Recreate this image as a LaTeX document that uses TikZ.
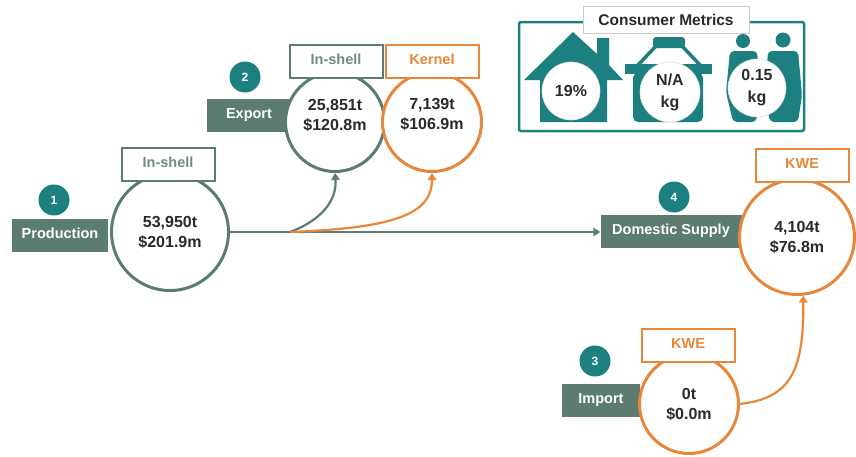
\documentclass[tikz,border=0pt]{standalone}
\usepackage{fontspec}
\setmainfont{Liberation Sans}
\usetikzlibrary{arrows.meta}
\definecolor{sage}{HTML}{5C7C72}
\definecolor{sagetxt}{HTML}{6F8C84}
\definecolor{tealc}{HTML}{1D8080}
\definecolor{orng}{HTML}{E8873A}
\definecolor{txt}{HTML}{2A2A2A}
\tikzset{
  valc/.style={circle, draw=sage, line width=3pt, fill=white, align=center, inner sep=0pt,
    font=\fontsize{16}{20}\selectfont\bfseries, text=txt},
  valco/.style={valc, draw=orng},
  valtext/.style={align=center, inner sep=0pt, font=\fontsize{16}{20}\selectfont\bfseries, text=txt},
  lab/.style={fill=sage, text=white, font=\fontsize{14.5}{16}\selectfont\bfseries,
    minimum height=33pt, inner sep=0pt, text height=10.5pt, text depth=3pt},
  tagbox/.style={draw=sage, line width=2pt, fill=white, text=sagetxt,
    font=\fontsize{14.5}{16}\selectfont\bfseries, minimum width=93pt, minimum height=33pt, inner sep=0pt,
    text height=10.5pt, text depth=3pt},
  tagboxo/.style={tagbox, draw=orng, text=orng},
  badge/.style={circle, fill=tealc, text=white, minimum size=31pt, inner sep=0pt,
    font=\fontsize{12}{14}\selectfont\bfseries},
  flow/.style={line width=2.2pt, draw=sage, -{Triangle[width=8.5pt,length=7pt]}},
  flowo/.style={flow, draw=orng},
  metric/.style={circle, fill=white, draw=gray!25, line width=0.6pt, align=center, inner sep=0pt,
    font=\fontsize{16}{22}\selectfont\bfseries, text=txt},
}
\begin{document}
\begin{tikzpicture}[x=1pt,y=-1pt]
\useasboundingbox[fill=white] (0,0) rectangle (856,456);

% Production
\node[lab, minimum width=96pt] (prodL) at (60,235) {Production};
\node[valc, minimum size=117pt] (prod) at (170,232) {53,950t\\\$201.9m};
\node[tagbox] (prodT) at (168,164) {In-shell};
\node[badge] (b1) at (54,200) {1};

% Export
\node[lab, minimum width=84pt] (expL) at (249,115) {Export};
\node[valc, minimum size=99pt] (expS) at (335,122) {};
\node[valco, minimum size=99pt] (expK) at (432,122) {};
\node[valtext] (expSv) at (335,116) {25,851t\\\$120.8m};
\node[valtext] (expKv) at (432,115) {7,139t\\\$106.9m};
\node[tagbox] (expST) at (336,61) {In-shell};
\node[tagboxo] (expKT) at (432,61) {Kernel};
\node[badge] (b2) at (245,77) {2};

% Domestic supply
\node[lab, minimum width=141pt] (domL) at (671,231) {Domestic Supply};
\node[valco, minimum size=115pt] (dom) at (797,237) {4,104t\\\$76.8m};
\node[tagboxo] (domT) at (802,165) {KWE};
\node[badge] (b4) at (674,197) {4};

% Import
\node[lab, minimum width=78pt] (impL) at (601,400) {Import};
\node[valco, minimum size=99pt] (imp) at (689,404) {0t\\\$0.0m};
\node[tagboxo] (impT) at (688,345) {KWE};
\node[badge] (b3) at (595,361) {3};

% connectors
\coordinate (split) at (290,232);
\draw[flow] (prod.east) -- (prod.east -| domL.west);
\draw[flow] (split) .. controls (322,220) and (337,200) .. (expS.south);
\draw[flowo] (split) .. controls (395,228) and (432,214) .. (expK.south);
\draw[flowo] (imp.east) .. controls (790,398) and (804,372) .. (dom.-84);

% Consumer metrics
\draw[tealc, line width=2.5pt, rounded corners=2pt] (519,22) rectangle (804,131);
\node[draw=gray!40, line width=0.8pt, fill=white, minimum width=166pt, minimum height=27pt,
  inner sep=0pt, font=\fontsize{15.5}{18}\selectfont\bfseries, text=txt] (cmT) at (666,20) {Consumer Metrics};
% house
\fill[tealc] (540,122) -- (540,80) -- (524,80) -- (573,32) -- (597,54) -- (597,38) -- (609,38)
  -- (609,65) -- (623,80) -- (607,80) -- (607,122) -- cycle;
\node[metric, minimum size=58pt] (mHouse) at (571,91) {19\%};
% basket
\fill[tealc, rounded corners=3pt] (653,37) rectangle (685,48);
\draw[tealc, line width=3.5pt] (657,45) -- (637,66);
\draw[tealc, line width=3.5pt] (681,45) -- (701,66);
\fill[tealc] (625,64) rectangle (712,74);
\fill[tealc, rounded corners=5pt] (633,73) -- (633,122) -- (703,122) -- (703,73) -- cycle;
\node[metric, minimum size=60pt] (mBasket) at (670,92) {N/A\\kg};
% people
\fill[tealc] (743,41) circle (7pt);
\fill[tealc] (783,40) circle (7.5pt);
\fill[tealc, rounded corners=4pt] (730,51) -- (757,51) -- (761,92) -- (756,122) -- (733,122) -- (726,92) -- cycle;
\fill[tealc, rounded corners=4pt] (768,51) -- (798,51) -- (802,95) -- (798,122) -- (770,122) -- (765,95) -- cycle;
\node[metric, minimum size=58pt] (mPeople) at (757,88) {0.15\\kg};
\end{tikzpicture}
\end{document}
